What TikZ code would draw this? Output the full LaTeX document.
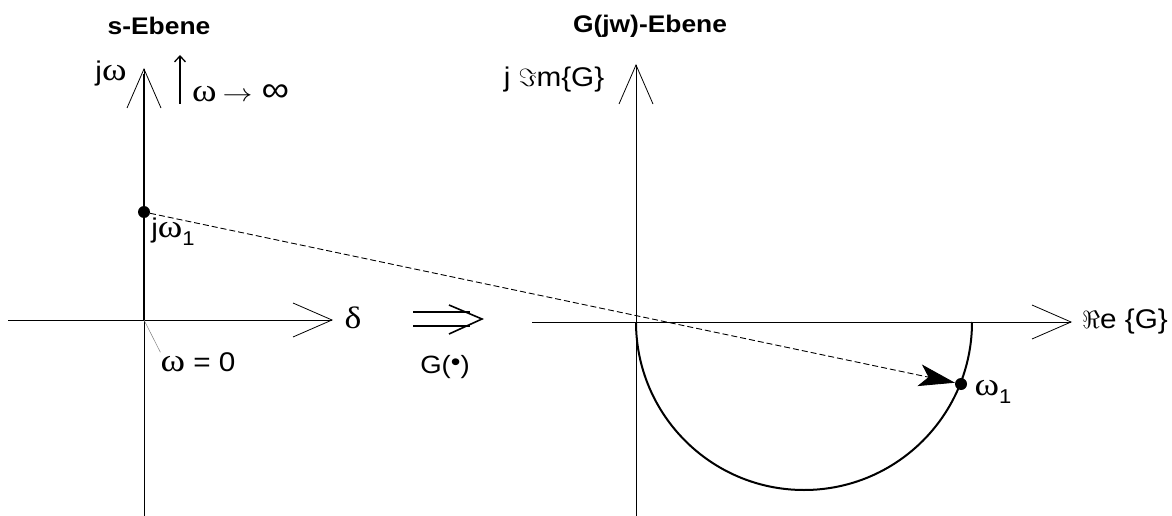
\documentclass[tikz,border=0pt]{standalone}
\usepackage{fontspec}
\setmainfont{Liberation Sans}[FakeStretch=1.1]
\newfontfamily\grk{Liberation Serif}[FakeStretch=1.15]
\usetikzlibrary{arrows.meta}

\newcommand{\idx}[1]{\raisebox{-0.3em}{\fontsize{20}{22}\selectfont #1}}
\newcommand{\om}{{\grk\scalebox{1.2}{ω}}}

\begin{document}
\begin{tikzpicture}[
  x=1pt, y=-1pt,
  axis/.style={line width=0.8pt, -{Straight Barb[length=39pt, width=34pt, line width=0.8pt]}},
  thickln/.style={line width=2pt},
  dot/.style={circle, fill, inner sep=0pt, minimum size=12pt},
  lbl/.style={font=\fontsize{27}{30}\selectfont, inner sep=0pt},
  ttl/.style={font=\fontsize{24}{28}\selectfont\bfseries, inner sep=0pt}
]
  \useasboundingbox (0,0) rectangle (1172,516);

  % --- s-Ebene ---
  \node[ttl] (ts) at (159, 26) {s-Ebene};
  \coordinate (o1) at (144, 320);
  \draw[axis] (144, 516) -- (144, 68);
  \draw[thickln] (o1) -- (144, 74);
  \draw[axis] (8, 320) -- (333, 320);
  \node[lbl] (jw) at (111, 74) {j\om};
  \node[lbl, font=\fontsize{31}{33}\selectfont] (delta) at (353, 318) {\grk δ};
  \node[lbl, anchor=west] (winf) at (192, 93) {\om\hspace{6pt}\scalebox{1.2}[1]{$\rightarrow$}\hspace{9pt}\scalebox{1.3}{∞}};
  \draw[line width=1.3pt, -{Straight Barb[length=6pt, width=11pt, line width=1.3pt]}] (180, 104) -- (180, 55);
  \node[lbl] (wnull) at (198, 362) {\om\ = 0};
  \draw[gray, line width=0.5pt] (o1) -- (wnull.north west);
  \node[dot] (p1) at (144, 212) {};
  \node[lbl] (jw1) at (173, 232) {j\om\idx{1}};

  % --- Abbildung G ---
  \draw[line width=1.6pt] (413, 312) -- (470, 312) (413, 326) -- (470, 326);
  \draw[line width=1.6pt] (449, 305) -- (482, 319) -- (449, 334);
  \node[lbl, font=\fontsize{25}{28}\selectfont] (gmap) at (445, 367) {G(\raisebox{0.1em}{\textbullet})};

  % --- G(jw)-Ebene ---
  \node[ttl] (tg) at (650, 26) {G(jw)-Ebene};
  \coordinate (o2) at (636, 322);
  \draw[axis] (636, 516) -- (636, 64);
  \draw[axis] (532, 322) -- (1072, 322);
  \node[lbl] (im) at (554, 80) {j $\Im$m\{G\}};
  \node[lbl] (re) at (1125, 322) {$\Re$e \{G\}};
  \draw[thickln] (o2) arc[start angle=180, end angle=0, radius=168];
  \node[dot] (p2) at (961, 384) {};
  \node[lbl] (w1) at (993, 392) {\om\idx{1}};

  % --- Zuordnung ---
  \draw[line width=0.9pt, dash pattern=on 6pt off 3pt,
        -{Stealth[length=36pt, width=22pt, inset=9pt]}] (p1) -- (p2);
\end{tikzpicture}
\end{document}
